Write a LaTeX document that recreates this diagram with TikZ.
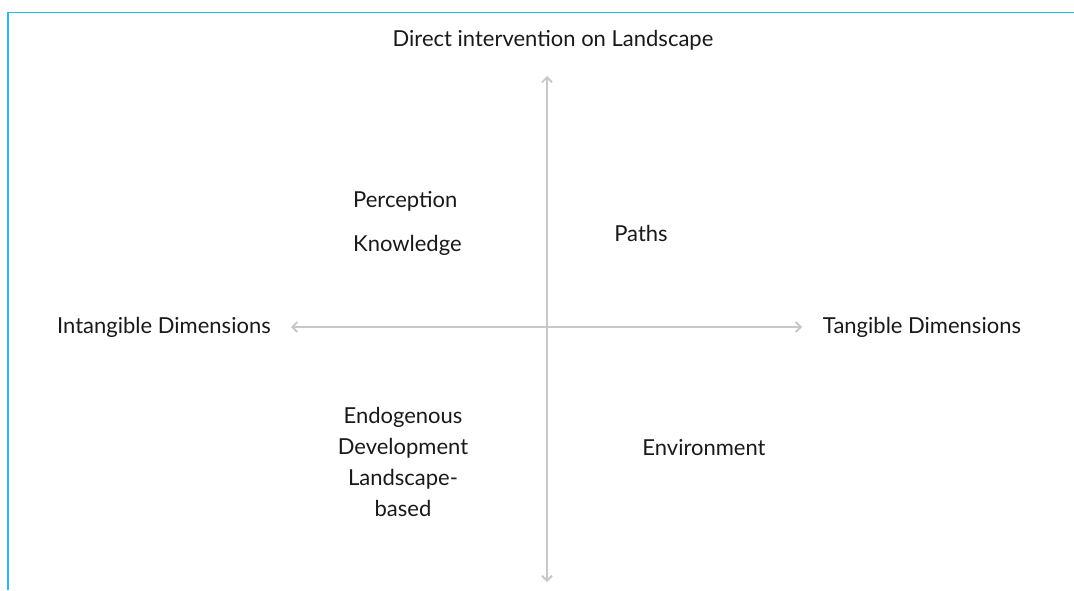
\documentclass[tikz,border=0pt]{standalone}
\usepackage{fontspec}
\setmainfont{Lato}
\usetikzlibrary{arrows.meta}
\definecolor{framecyan}{RGB}{40,185,235}
\definecolor{axisgray}{RGB}{200,200,200}
\begin{document}
\begin{tikzpicture}[x=1pt,y=-1pt,
  lbl/.style={font=\fontsize{22}{31}\selectfont, inner sep=0pt, text=black!90},
  axis/.style={draw=axisgray, line width=1.8pt, {Straight Barb[length=5pt,width=10pt]}-{Straight Barb[length=5pt,width=10pt]}}]
\useasboundingbox (0,0) rectangle (1074,590);
\draw[framecyan, line width=1.6pt] (8,590) -- (8,12.5) -- (1074,12.5);

\coordinate (top) at (547,76);
\coordinate (bottom) at (547,582);
\coordinate (left) at (291,327);
\coordinate (right) at (802,327);

\draw[axis] (bottom) -- (top);
\draw[axis] (left) -- (right);

\node[lbl] (direct) at (553,40) {Direct intervention on Landscape};
\node[lbl] (intangible) at (164,327) {Intangible Dimensions};
\node[lbl] (tangible) at (922,327) {Tangible Dimensions};
\node[lbl, anchor=west] (perception) at (353,201) {Perception};
\node[lbl, anchor=west] (knowledge) at (353,245) {Knowledge};
\node[lbl] (paths) at (641,233) {Paths};
\node[lbl, align=center] (endogenous) at (403,462) {Endogenous\\Development\\Landscape-\\based};
\node[lbl] (environment) at (704,448) {Environment};
\end{tikzpicture}
\end{document}
